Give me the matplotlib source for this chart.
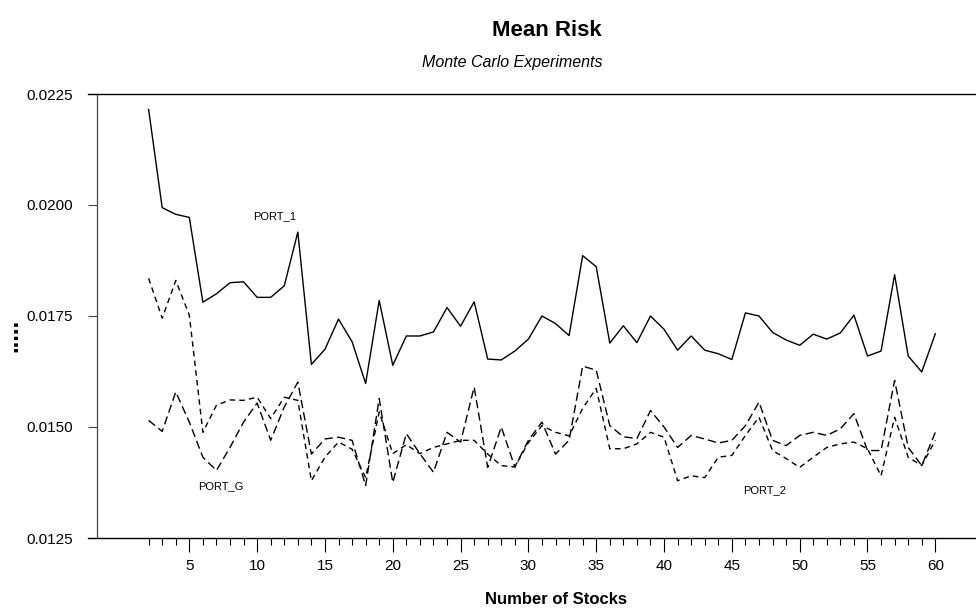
import matplotlib
matplotlib.use("Agg")
import matplotlib.pyplot as plt
from matplotlib.ticker import FixedLocator, FormatStrFormatter

plt.rcParams['font.family'] = ['Liberation Sans', 'DejaVu Sans']

# number of stocks in each experiment
n_stocks = list(range(2, 61))

port_1 = [0.02215, 0.01994, 0.01979, 0.01972, 0.01781, 0.01800, 0.01825, 0.01827,
          0.01792, 0.01792, 0.01818, 0.01939, 0.01641, 0.01675, 0.01743, 0.01692,
          0.01598, 0.01785, 0.01639, 0.01705, 0.01705, 0.01714, 0.01769, 0.01727,
          0.01782, 0.01653, 0.01651, 0.01671, 0.01698, 0.01750, 0.01733, 0.01706,
          0.01886, 0.01861, 0.01689, 0.01728, 0.01690, 0.01750, 0.01720, 0.01673,
          0.01705, 0.01673, 0.01665, 0.01652, 0.01757, 0.01750, 0.01713, 0.01696,
          0.01684, 0.01709, 0.01698, 0.01712, 0.01752, 0.01660, 0.01671, 0.01843,
          0.01660, 0.01624, 0.01710]

port_2 = [0.01835, 0.01745, 0.01830, 0.01752, 0.01488, 0.01549, 0.01561, 0.01560,
          0.01567, 0.01519, 0.01567, 0.01560, 0.01379, 0.01432, 0.01466, 0.01450,
          0.01386, 0.01534, 0.01440, 0.01460, 0.01440, 0.01454, 0.01462, 0.01470,
          0.01470, 0.01439, 0.01413, 0.01410, 0.01465, 0.01503, 0.01488, 0.01480,
          0.01542, 0.01587, 0.01451, 0.01451, 0.01462, 0.01488, 0.01477, 0.01379,
          0.01390, 0.01386, 0.01432, 0.01436, 0.01481, 0.01522, 0.01447, 0.01429,
          0.01409, 0.01432, 0.01454, 0.01462, 0.01466, 0.01451, 0.01390, 0.01522,
          0.01432, 0.01413, 0.01470]

port_g = [0.01515, 0.01490, 0.01579, 0.01511, 0.01432, 0.01402, 0.01454, 0.01511,
          0.01554, 0.01470, 0.01545, 0.01601, 0.01439, 0.01473, 0.01477, 0.01470,
          0.01368, 0.01564, 0.01375, 0.01485, 0.01440, 0.01398, 0.01488, 0.01466,
          0.01590, 0.01409, 0.01500, 0.01410, 0.01470, 0.01511, 0.01439, 0.01470,
          0.01637, 0.01628, 0.01503, 0.01478, 0.01474, 0.01537, 0.01500, 0.01454,
          0.01481, 0.01473, 0.01464, 0.01470, 0.01503, 0.01556, 0.01470, 0.01458,
          0.01481, 0.01488, 0.01481, 0.01496, 0.01530, 0.01447, 0.01447, 0.01605,
          0.01454, 0.01413, 0.01488]

y_ticks = [0.0125, 0.0150, 0.0175, 0.0200, 0.0225]
x_major = list(range(5, 61, 5))

fig = plt.figure(figsize=(9.76, 6.14), dpi=100)
ax = fig.add_axes([88 / 976, 76 / 614, 888 / 976, 444 / 614])

ax.plot(n_stocks, port_1, color='black', lw=1.0)
ax.plot(n_stocks, port_2, color='black', lw=1.0, dashes=(4, 3))
ax.plot(n_stocks, port_g, color='black', lw=1.0, dashes=(6, 3))

ax.text(11.3, 0.01974, 'PORT_1', fontsize=8, ha='center', va='center')
ax.text(7.3, 0.01366, 'PORT_G', fontsize=8, ha='center', va='center')
ax.text(47.4, 0.01357, 'PORT_2', fontsize=8, ha='center', va='center')

ax.set_xlim(-2.47, 63.0)
ax.set_ylim(0.0125, 0.0225)

# the vertical axis line sits a little right of where the ticks start
ax.axvline(-1.8, color='#444444', lw=0.9)

for side in ['left', 'right']:
    ax.spines[side].set_visible(False)
ax.spines['top'].set_linewidth(1.0)
ax.spines['bottom'].set_linewidth(1.0)

ax.set_yticks(y_ticks)
ax.yaxis.set_major_formatter(FormatStrFormatter('%.4f'))
ax.tick_params(axis='y', direction='in', length=6.5, width=0.8,
               labelsize=11, pad=11, color='#444444')

ax.xaxis.set_major_locator(FixedLocator(x_major))
ax.xaxis.set_minor_locator(FixedLocator(n_stocks))
ax.tick_params(axis='x', which='major', direction='out', length=10,
               width=0.8, labelsize=11, pad=5)
ax.tick_params(axis='x', which='minor', direction='out', length=5, width=0.8)

fig.text(547 / 976, 1 - 30 / 614, 'Mean Risk', fontsize=16, fontweight='bold',
         ha='center', va='center')
fig.text(512 / 976, 1 - 62 / 614, 'Monte Carlo Experiments', fontsize=11.5,
         style='italic', ha='center', va='center')
fig.text(556 / 976, 1 - 600 / 614, 'Number of Stocks', fontsize=12,
         fontweight='bold', ha='center', va='center')
fig.text(11 / 976, 1 - 335 / 614, '.....', fontsize=17, fontweight='bold',
         rotation=90, ha='center', va='center')

fig.savefig('out.png', dpi=100)
